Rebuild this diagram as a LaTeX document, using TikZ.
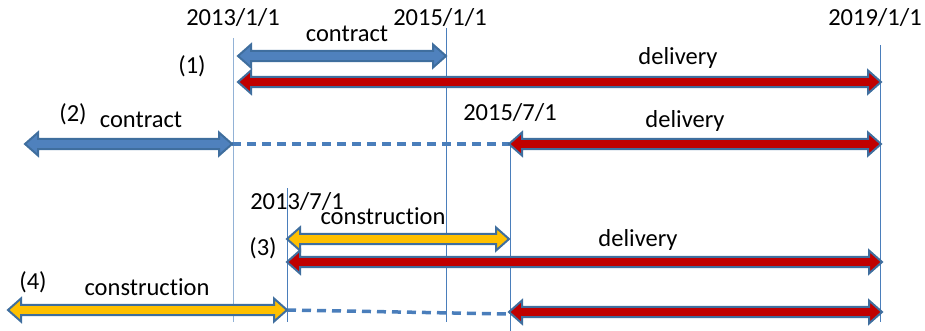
\documentclass[tikz,border=0pt]{standalone}
\usepackage{fontspec}
\setmainfont{Carlito}[Ligatures=NoCommon, RawFeature={-liga,-clig,-calt,-dlig}]
\usetikzlibrary{calc}

\definecolor{lineblue}{HTML}{4A7EBB}
\definecolor{fillblue}{HTML}{4F81BD}
\definecolor{edgeblue}{HTML}{3F6E9E}
\definecolor{fillred}{HTML}{C00000}
\definecolor{fillgold}{HTML}{FFC000}

% block arrow with a head at both ends, from #2 to #3
\newcommand{\dblarrow}[3]{%
  \path[#1] let \p1=(#2), \p2=(#3) in
    (\x1,\y1) -- (\x1+13pt,\y1+11.5pt) -- (\x1+13pt,\y1+5.2pt)
    -- (\x2-13pt,\y2+5.2pt) -- (\x2-13pt,\y2+11.5pt) -- (\x2,\y2)
    -- (\x2-13pt,\y2-11.5pt) -- (\x2-13pt,\y2-5.2pt)
    -- (\x1+13pt,\y1-5.2pt) -- (\x1+13pt,\y1-11.5pt) -- cycle;}

\begin{document}
\begin{tikzpicture}
      [x=1pt, y=-1pt,
       lbl/.style={anchor=base, inner sep=0pt, font=\fontsize{24.5}{29}\selectfont},
       tick/.style={draw=lineblue, line width=1pt},
       gap/.style={draw=lineblue, line width=3.5pt, dash pattern=on 9pt off 6pt},
       contract/.style={fill=fillblue, draw=edgeblue, line width=2pt},
       delivery/.style={fill=fillred, draw=edgeblue, line width=2pt},
       build/.style={fill=fillgold, draw=edgeblue, line width=2pt},
      ]
      \useasboundingbox (0,0) rectangle (925,331);

      % time marks
      \coordinate (T1a) at (233,38);  \coordinate (T1b) at (233,322);
      \coordinate (T2a) at (446,28);  \coordinate (T2b) at (446,322);
      \coordinate (T3a) at (880,45);  \coordinate (T3b) at (880,322);
      \coordinate (T4a) at (510,144); \coordinate (T4b) at (510,331);
      \coordinate (T5a) at (287,188); \coordinate (T5b) at (287,322);
      \draw[tick, draw=lineblue!60] (T1a) -- (T1b);
      \draw[tick] (T2a) -- (T2b);
      \draw[tick] (T3a) -- (T3b);
      \draw[tick] (T4a) -- (T4b);
      \draw[tick] (T5a) -- (T5b);

      % arrow ends
      \coordinate (C1L) at (238,56);  \coordinate (C1R) at (446,56);
      \coordinate (D1L) at (238,82);  \coordinate (D1R) at (881,82);
      \coordinate (C2L) at (25,144);  \coordinate (C2R) at (232,144);
      \coordinate (D2L) at (509,144); \coordinate (D2R) at (881,144);
      \coordinate (B3L) at (287,239); \coordinate (B3R) at (509,239);
      \coordinate (D3L) at (287,262); \coordinate (D3R) at (882,262);
      \coordinate (B4L) at (8,310);   \coordinate (B4R) at (287,310);
      \coordinate (D4L) at (509,312); \coordinate (D4R) at (882,312);
      \coordinate (G4R) at (509,314);

      \draw[gap] (C2R) -- (D2L);
      \draw[gap] (B4R) -- (G4R);

      \dblarrow{contract}{C1L}{C1R}
      \dblarrow{delivery}{D1L}{D1R}
      \dblarrow{contract}{C2L}{C2R}
      \dblarrow{delivery}{D2L}{D2R}
      \dblarrow{build}{B3L}{B3R}
      \dblarrow{delivery}{D3L}{D3R}
      \dblarrow{build}{B4L}{B4R}
      \dblarrow{delivery}{D4L}{D4R}

      % labels
      \node[lbl] (L1) at (233,26) {2013/1/1};
      \node[lbl] (L2) at (440,26) {2015/1/1};
      \node[lbl] (L3) at (875,26) {2019/1/1};
      \node[lbl] (L4) at (510,120.5) {2015/7/1};
      \node[lbl] (L5) at (297,209) {2013/7/1};

      \node[lbl] (R1) at (192,74) {(1)};
      \node[lbl] (R2) at (73,122) {(2)};
      \node[lbl] (R3) at (263,255) {(3)};
      \node[lbl] (R4) at (33,289) {(4)};

      \node[lbl] (N1) at (347,41.5) {contract};
      \node[lbl] (N2) at (678,65) {delivery};
      \node[lbl] (N3) at (141,128) {contract};
      \node[lbl] (N4) at (685,128) {delivery};
      \node[lbl] (N5) at (383,224) {construction};
      \node[lbl] (N6) at (638,246.5) {delivery};
      \node[lbl] (N7) at (147,295) {construction};
    \end{tikzpicture}
\end{document}
